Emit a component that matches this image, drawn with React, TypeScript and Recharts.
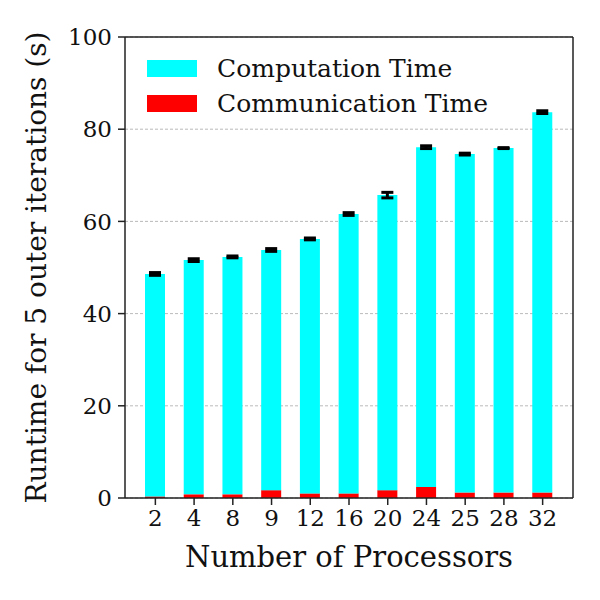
import { Bar, BarChart, XAxis, YAxis, CartesianGrid, ErrorBar } from "recharts"

// processor counts and measured times (seconds)
const processors = ["2", "4", "8", "9", "12", "16", "20", "24", "25", "28", "32"]
const communication = [0.35, 0.8, 0.8, 1.7, 1.0, 1.0, 1.7, 2.4, 1.2, 1.2, 1.2]
const totals = [48.6, 51.6, 52.3, 53.8, 56.2, 61.6, 65.7, 76.1, 74.6, 75.9, 83.7]
const errors = [0.3, 0.3, 0.2, 0.3, 0.2, 0.3, 0.6, 0.3, 0.2, 0.1, 0.3]
const yTicks = [0, 20, 40, 60, 80, 100]

const data = processors.map((p, i) => ({
  name: p,
  comm: communication[i],
  comp: +(totals[i] - communication[i]).toFixed(2),
  err: errors[i],
}))

const font = "DejaVu Serif"

function LegendBox() {
  const items = [
    { label: "Computation Time", color: "#00ffff" },
    { label: "Communication Time", color: "#ff0000" },
  ]
  return (
    <div style={{ position: "absolute", left: 147, top: 51, fontFamily: font, fontSize: 25, lineHeight: 1 }}>
      {items.map((it) => (
        <div key={it.label} style={{ display: "flex", alignItems: "center", height: 35 }}>
          <div style={{ width: 50, height: 17, background: it.color, marginRight: 20 }} />
          <span style={{ color: "#111" }}>{it.label}</span>
        </div>
      ))}
    </div>
  )
}

export default function App() {
  return (
    <div style={{ position: "absolute", left: 0, top: 0, width: 600, height: 600, background: "#fff" }}>
      <BarChart
        width={600}
        height={600}
        data={data}
        margin={{ top: 36, right: 26, bottom: 0, left: 0 }}
        barCategoryGap="50%"
      >
        <CartesianGrid vertical={false} stroke="#a8a8a8" strokeDasharray="3 2" strokeWidth={0.8} />
        <XAxis
          xAxisId="top"
          orientation="top"
          dataKey="name"
          tick={false}
          tickLine={false}
          height={1}
          stroke="#222"
          strokeWidth={1.5}
        />
        <YAxis
          yAxisId="right"
          orientation="right"
          domain={[0, 100]}
          tick={false}
          tickLine={false}
          width={1}
          stroke="#222"
          strokeWidth={1.5}
        />
        <XAxis
          dataKey="name"
          height={102}
          padding={{ left: 11, right: 11 }}
          stroke="#222"
          strokeWidth={1.5}
          tickSize={7}
          tickLine={{ stroke: "#222", strokeWidth: 1.5 }}
          tick={{ fill: "#111", fontSize: 23, fontFamily: font }}
          tickMargin={5}
          interval={0}
          label={{
            value: "Number of Processors",
            position: "insideBottom",
            offset: 33,
            fill: "#111",
            fontSize: 29,
            fontFamily: font,
          }}
        />
        <YAxis
          width={125}
          domain={[0, 100]}
          ticks={yTicks}
          stroke="#222"
          strokeWidth={1.5}
          tickSize={7}
          tickLine={{ stroke: "#222", strokeWidth: 1.5 }}
          tick={{ fill: "#111", fontSize: 23, fontFamily: font }}
          tickMargin={6}
          label={{
            value: "Runtime for 5 outer iterations (s)",
            angle: -90,
            position: "insideLeft",
            offset: 36,
            fill: "#111",
            fontSize: 28,
            fontFamily: font,
            style: { textAnchor: "middle" },
          }}
        />
        <Bar dataKey="comm" stackId="a" fill="#ff0000" barSize={20} isAnimationActive={false} />
        <Bar dataKey="comp" stackId="a" fill="#00ffff" barSize={20} isAnimationActive={false}>
          <ErrorBar dataKey="err" width={6} stroke="#000" strokeWidth={3} direction="y" />
        </Bar>
      </BarChart>
      <LegendBox />
    </div>
  )
}
